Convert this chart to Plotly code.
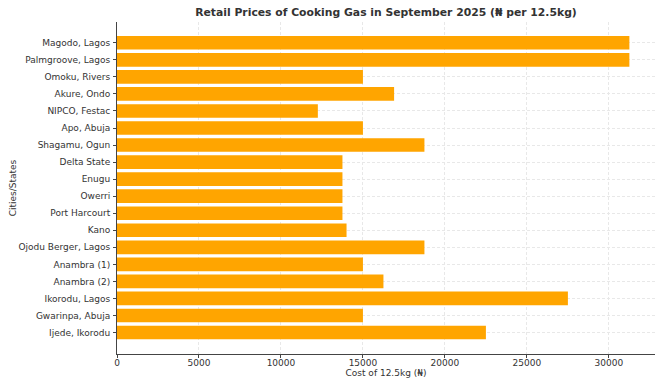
import plotly.graph_objects as go

cities = [
    "Magodo, Lagos", "Palmgroove, Lagos", "Omoku, Rivers", "Akure, Ondo",
    "NIPCO, Festac", "Apo, Abuja", "Shagamu, Ogun", "Delta State", "Enugu",
    "Owerri", "Port Harcourt", "Kano", "Ojodu Berger, Lagos", "Anambra (1)",
    "Anambra (2)", "Ikorodu, Lagos", "Gwarinpa, Abuja", "Ijede, Ikorodu",
]
prices = [
    31250, 31250, 15000, 16900, 12250, 15000, 18750, 13750, 13750,
    13750, 13750, 14000, 18750, 15000, 16250, 27500, 15000, 22500,
]
x_ticks = [0, 5000, 10000, 15000, 20000, 25000, 30000]

title = "Retail Prices of Cooking Gas in September 2025 (₦ per 12.5kg)"
x_title = "Cost of 12.5kg (₦)"
y_title = "Cities/States"

n = len(cities)
order_bottom_up = cities[::-1]

fig = go.Figure(
    go.Bar(
        x=prices,
        y=cities,
        orientation="h",
        marker=dict(color="#FFA500", line=dict(width=0)),
        width=0.8,
    )
)

font = "DejaVu Sans, Liberation Sans, sans-serif"
L, R, T, B = 117, 655, 22, 354
fig.update_layout(
    width=664,
    height=387,
    margin=dict(l=L, r=664 - R, t=T, b=387 - B),
    plot_bgcolor="white",
    paper_bgcolor="white",
    font=dict(family=font, size=9, color="#333333"),
    title=dict(
        text="<b>" + title + "</b>",
        x=(L + R) / 2 / 664,
        xanchor="center",
        y=1 - 12.5 / 387,
        yanchor="middle",
        font=dict(size=10.8, color="#333333"),
    ),
    showlegend=False,
)
common = dict(
    showgrid=True,
    gridcolor="#e8e8e8",
    griddash="3px,2px",
    gridwidth=1,
    showline=True,
    linecolor="#444444",
    linewidth=1,
    ticks="outside",
    ticklen=3,
    tickcolor="#444444",
    zeroline=False,
    automargin=False,
    tickfont=dict(size=9),
)
fig.update_xaxes(
    range=[0, max(prices) * 1.05],
    tickvals=x_ticks,
    ticktext=[str(v) for v in x_ticks],
    title=dict(text=x_title, font=dict(size=9), standoff=0),
    ticklabelstandoff=-3,
    **common,
)
fig.update_yaxes(
    type="category",
    categoryorder="array",
    categoryarray=order_bottom_up,
    range=[-1.26, n - 1 + 1.22],
    title=dict(text=y_title, font=dict(size=9), standoff=0),
    ticklabelstandoff=1,
    **common,
)

fig.write_html(
    "out.html",
    config={"displayModeBar": False},
    post_script="document.body.style.margin='0';document.body.style.padding='0';",
)
